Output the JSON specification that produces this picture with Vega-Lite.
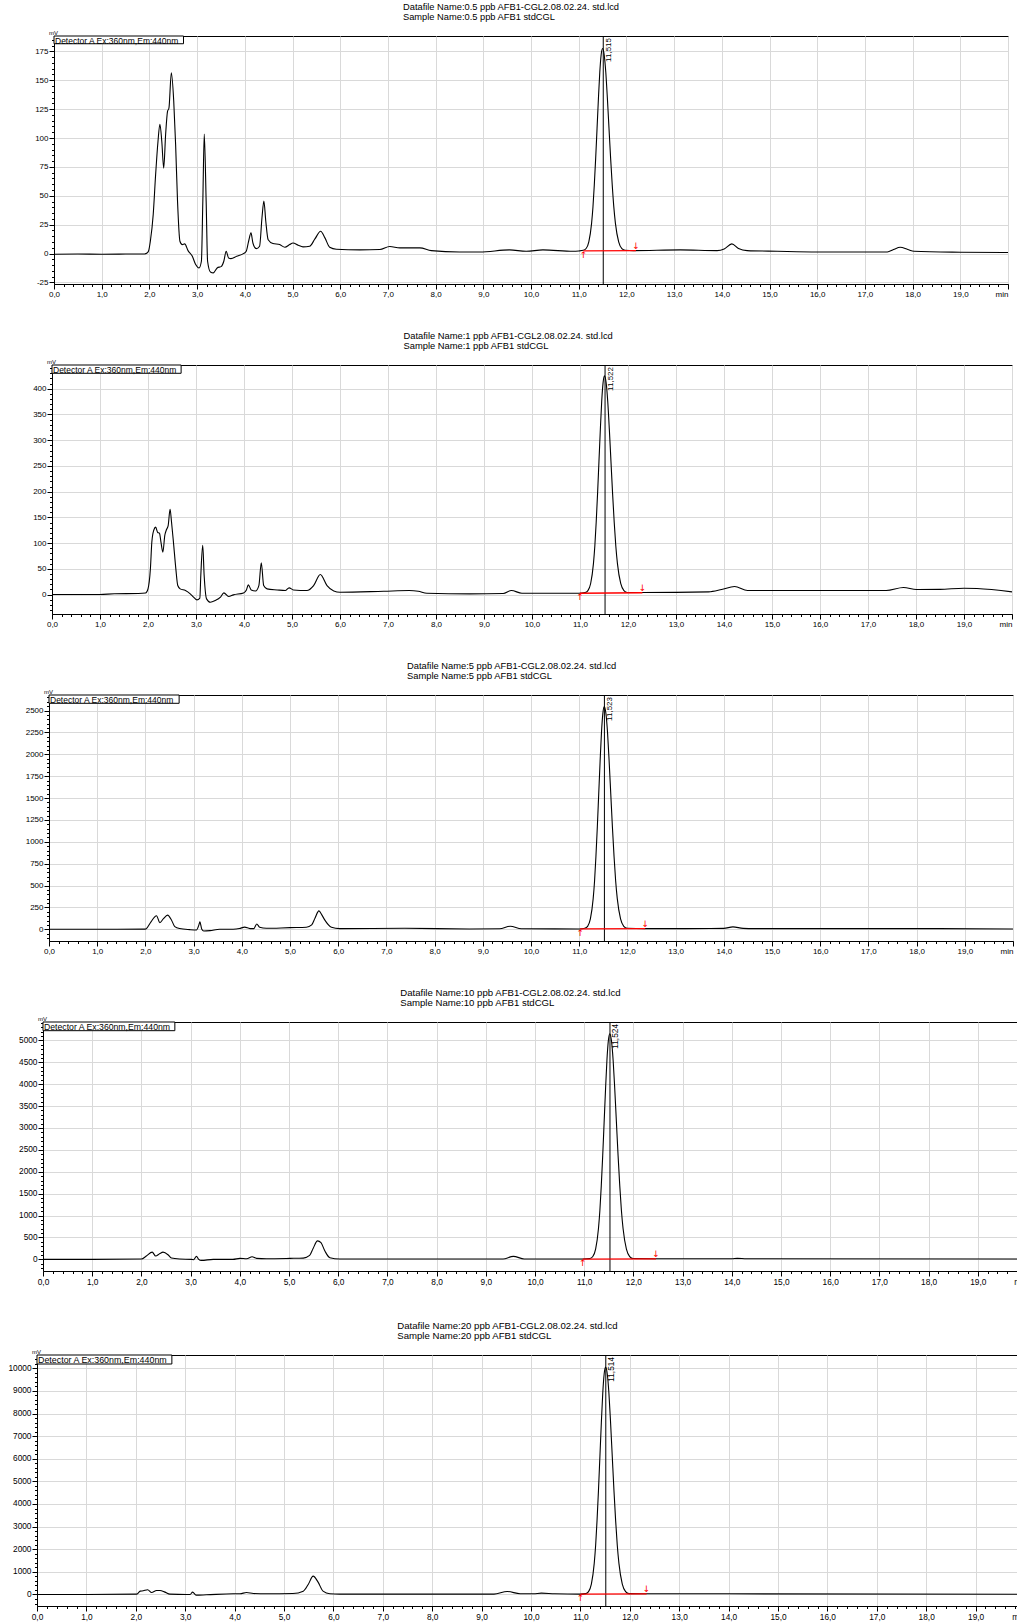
{
"$schema": "https://vega.github.io/schema/vega-lite/v6.json",
"padding": {"top": 2, "left": 0, "right": 0, "bottom": 0},
"config": {
  "font": "Liberation Sans",
  "view": {"stroke": "#000000", "strokeWidth": 1},
  "axis": {"domainColor": "#000000", "tickColor": "#000000", "labelColor": "#000000", "titleColor": "#000000", "gridColor": "#d9d9d9", "labelFont": "Liberation Sans", "titleFont": "Liberation Sans", "domainWidth": 1, "tickWidth": 1, "gridWidth": 1, "tickCount": 1000},
  "title": {"font": "Liberation Sans", "fontWeight": "normal", "color": "#000000", "anchor": "start", "frame": "group", "offset": 14, "lineHeight": 10, "baseline": "bottom"},
  "text": {"font": "Liberation Sans", "color": "#000000"}
},
"datasets": {
  "c1": [{"t":0,"v":-0.5},{"t":0.5,"v":-0.4},{"t":1,"v":-0.5},{"t":1.5,"v":-0.4},{"t":1.9,"v":-0.3},{"t":1.95,"v":0.5},{"t":1.98,"v":2},{"t":2.02,"v":10.7},{"t":2.08,"v":33.8},{"t":2.13,"v":68},{"t":2.18,"v":97},{"t":2.22,"v":112},{"t":2.26,"v":97},{"t":2.3,"v":74},{"t":2.34,"v":103},{"t":2.38,"v":123},{"t":2.41,"v":126},{"t":2.46,"v":156.5},{"t":2.51,"v":132},{"t":2.55,"v":94},{"t":2.59,"v":45},{"t":2.64,"v":10.7},{"t":2.69,"v":7.8},{"t":2.74,"v":8.4},{"t":2.81,"v":2.6},{"t":2.9,"v":-2.3},{"t":2.97,"v":-9.5},{"t":3.04,"v":-12.4},{"t":3.09,"v":-6.6},{"t":3.12,"v":45},{"t":3.15,"v":103.5},{"t":3.19,"v":45},{"t":3.22,"v":-6.6},{"t":3.28,"v":-15.9},{"t":3.34,"v":-16.7},{"t":3.42,"v":-12.4},{"t":3.51,"v":-11},{"t":3.56,"v":-6.6},{"t":3.61,"v":2},{"t":3.66,"v":-3.8},{"t":3.71,"v":-4.3},{"t":3.83,"v":-2.3},{"t":3.97,"v":0},{"t":4.03,"v":2},{"t":4.08,"v":10.7},{"t":4.13,"v":17.9},{"t":4.17,"v":9.2},{"t":4.24,"v":4.3},{"t":4.31,"v":6.4},{"t":4.36,"v":31},{"t":4.4,"v":45.5},{"t":4.44,"v":28},{"t":4.49,"v":12},{"t":4.59,"v":8.7},{"t":4.73,"v":7.8},{"t":4.84,"v":5.5},{"t":4.94,"v":7.8},{"t":5.01,"v":9.2},{"t":5.12,"v":7.2},{"t":5.22,"v":5.8},{"t":5.36,"v":6.4},{"t":5.47,"v":12.7},{"t":5.59,"v":19.3},{"t":5.68,"v":13.6},{"t":5.78,"v":5.5},{"t":5.92,"v":3.8},{"t":6.41,"v":3.2},{"t":6.83,"v":3.5},{"t":7.04,"v":6.1},{"t":7.25,"v":5},{"t":7.67,"v":5},{"t":7.91,"v":2.6},{"t":8.5,"v":1.4},{"t":8.93,"v":1.4},{"t":9.55,"v":3.2},{"t":9.9,"v":2},{"t":10.25,"v":3.2},{"t":10.88,"v":2},{"t":11,"v":2.3},{"t":11.097,"v":2.9},{"t":11.155,"v":4.4},{"t":11.212,"v":10.2},{"t":11.27,"v":26.2},{"t":11.299,"v":40.4},{"t":11.327,"v":59.3},{"t":11.356,"v":82.6},{"t":11.385,"v":108.6},{"t":11.414,"v":134.6},{"t":11.442,"v":156.9},{"t":11.471,"v":172.1},{"t":11.5,"v":177.5},{"t":11.534,"v":172.1},{"t":11.568,"v":156.9},{"t":11.601,"v":134.6},{"t":11.635,"v":108.6},{"t":11.669,"v":82.6},{"t":11.703,"v":59.3},{"t":11.736,"v":40.4},{"t":11.77,"v":26.2},{"t":11.838,"v":10.2},{"t":11.905,"v":4.4},{"t":11.973,"v":2.9},{"t":12.15,"v":2.6},{"t":13.13,"v":3.2},{"t":13.9,"v":2.6},{"t":14.05,"v":4},{"t":14.21,"v":8.4},{"t":14.35,"v":4.5},{"t":14.53,"v":2.6},{"t":15.16,"v":2},{"t":16,"v":1.4},{"t":17.47,"v":1.4},{"t":17.6,"v":3.5},{"t":17.74,"v":5.5},{"t":17.9,"v":3.5},{"t":18.03,"v":2},{"t":19.01,"v":1.2},{"t":20,"v":0.9}],
  "c2": [{"t":0,"v":0},{"t":1,"v":0},{"t":1.3,"v":1.5},{"t":1.8,"v":2},{"t":1.95,"v":3},{"t":2,"v":11},{"t":2.05,"v":50},{"t":2.08,"v":102},{"t":2.12,"v":125},{"t":2.16,"v":131},{"t":2.2,"v":121},{"t":2.24,"v":119},{"t":2.27,"v":102},{"t":2.31,"v":82.5},{"t":2.35,"v":115},{"t":2.38,"v":125},{"t":2.42,"v":134},{"t":2.46,"v":165.6},{"t":2.49,"v":141},{"t":2.53,"v":102},{"t":2.58,"v":50},{"t":2.62,"v":17.5},{"t":2.67,"v":11},{"t":2.78,"v":7.8},{"t":2.88,"v":1.3},{"t":2.95,"v":-5},{"t":3.02,"v":-10.4},{"t":3.08,"v":-7},{"t":3.1,"v":37},{"t":3.14,"v":95.5},{"t":3.17,"v":37},{"t":3.22,"v":-8.4},{"t":3.3,"v":-15},{"t":3.4,"v":-11.7},{"t":3.51,"v":-5},{"t":3.58,"v":3.2},{"t":3.68,"v":-3.9},{"t":3.78,"v":-0.6},{"t":3.99,"v":3.2},{"t":4.05,"v":9},{"t":4.09,"v":18.8},{"t":4.15,"v":9},{"t":4.24,"v":7},{"t":4.31,"v":17.5},{"t":4.36,"v":61.7},{"t":4.41,"v":17.5},{"t":4.48,"v":11},{"t":4.69,"v":9},{"t":4.86,"v":7.8},{"t":4.94,"v":13},{"t":5.03,"v":9},{"t":5.31,"v":7.8},{"t":5.45,"v":17.5},{"t":5.59,"v":39},{"t":5.73,"v":17.5},{"t":5.87,"v":7},{"t":6,"v":4.5},{"t":6.91,"v":6.5},{"t":7.44,"v":7.8},{"t":7.63,"v":6.5},{"t":7.81,"v":2.6},{"t":8.71,"v":1.3},{"t":9.4,"v":2},{"t":9.57,"v":7.8},{"t":9.79,"v":2.6},{"t":10.5,"v":2.6},{"t":10.97,"v":2.6},{"t":11.107,"v":3.9},{"t":11.165,"v":7.7},{"t":11.222,"v":21.5},{"t":11.28,"v":60.1},{"t":11.309,"v":94.3},{"t":11.337,"v":140},{"t":11.366,"v":196.2},{"t":11.395,"v":258.9},{"t":11.424,"v":321.5},{"t":11.452,"v":375.4},{"t":11.481,"v":412},{"t":11.51,"v":425},{"t":11.544,"v":412},{"t":11.578,"v":375.4},{"t":11.611,"v":321.5},{"t":11.645,"v":258.9},{"t":11.679,"v":196.2},{"t":11.713,"v":140},{"t":11.746,"v":94.3},{"t":11.78,"v":60.1},{"t":11.848,"v":21.5},{"t":11.915,"v":7.7},{"t":11.983,"v":3.9},{"t":12.32,"v":3.9},{"t":13.68,"v":5.2},{"t":13.95,"v":9.7},{"t":14.22,"v":15.6},{"t":14.49,"v":7.8},{"t":15.03,"v":7.8},{"t":17.38,"v":7.8},{"t":17.74,"v":13.6},{"t":18.01,"v":9.7},{"t":18.5,"v":10},{"t":19,"v":12.3},{"t":19.27,"v":11.7},{"t":20,"v":5.2}],
  "c3": [{"t":0,"v":0},{"t":1,"v":0},{"t":2,"v":2},{"t":2.02,"v":8},{"t":2.12,"v":88},{"t":2.23,"v":155},{"t":2.3,"v":76},{"t":2.37,"v":118},{"t":2.46,"v":162},{"t":2.54,"v":107},{"t":2.61,"v":30},{"t":2.71,"v":8},{"t":2.92,"v":-4},{"t":3.06,"v":-8},{"t":3.11,"v":50},{"t":3.13,"v":85},{"t":3.17,"v":0},{"t":3.21,"v":-19},{"t":3.34,"v":-15},{"t":3.54,"v":0},{"t":3.82,"v":0},{"t":3.95,"v":8},{"t":4.06,"v":25},{"t":4.17,"v":8},{"t":4.25,"v":8},{"t":4.31,"v":60},{"t":4.37,"v":23},{"t":4.51,"v":11},{"t":5,"v":19},{"t":5.34,"v":23},{"t":5.45,"v":50},{"t":5.52,"v":130},{"t":5.6,"v":210},{"t":5.66,"v":165},{"t":5.72,"v":107},{"t":5.86,"v":23},{"t":6.03,"v":8},{"t":7.38,"v":11},{"t":8.72,"v":4},{"t":9.35,"v":6},{"t":9.57,"v":35},{"t":9.8,"v":6},{"t":11.01,"v":4},{"t":11.117,"v":12},{"t":11.175,"v":34},{"t":11.232,"v":118},{"t":11.29,"v":350},{"t":11.319,"v":555},{"t":11.347,"v":831},{"t":11.376,"v":1169},{"t":11.405,"v":1547},{"t":11.434,"v":1923},{"t":11.462,"v":2248},{"t":11.491,"v":2468},{"t":11.52,"v":2546},{"t":11.554,"v":2468},{"t":11.588,"v":2248},{"t":11.621,"v":1923},{"t":11.655,"v":1547},{"t":11.689,"v":1169},{"t":11.723,"v":831},{"t":11.756,"v":555},{"t":11.79,"v":350},{"t":11.858,"v":118},{"t":11.925,"v":34},{"t":11.993,"v":12},{"t":12.37,"v":8},{"t":13.2,"v":8},{"t":14,"v":10},{"t":14.19,"v":27},{"t":14.4,"v":10},{"t":14.63,"v":8},{"t":17.68,"v":8},{"t":20,"v":4}],
  "c4": [{"t":0,"v":0},{"t":1,"v":0},{"t":2,"v":8},{"t":2.1,"v":76},{"t":2.22,"v":165},{"t":2.29,"v":76},{"t":2.37,"v":130},{"t":2.44,"v":165},{"t":2.54,"v":107},{"t":2.61,"v":30},{"t":2.78,"v":8},{"t":3.02,"v":0},{"t":3.06,"v":-8},{"t":3.12,"v":70},{"t":3.16,"v":8},{"t":3.22,"v":-23},{"t":3.46,"v":0},{"t":3.86,"v":0},{"t":4,"v":23},{"t":4.14,"v":15},{"t":4.25,"v":60},{"t":4.34,"v":23},{"t":4.54,"v":15},{"t":5.02,"v":23},{"t":5.29,"v":30},{"t":5.42,"v":91},{"t":5.49,"v":250},{"t":5.58,"v":422},{"t":5.65,"v":380},{"t":5.73,"v":190},{"t":5.83,"v":38},{"t":6.03,"v":8},{"t":8.69,"v":8},{"t":9.35,"v":10},{"t":9.56,"v":70},{"t":9.78,"v":10},{"t":10.97,"v":8},{"t":11.117,"v":19},{"t":11.175,"v":65},{"t":11.232,"v":234},{"t":11.29,"v":704},{"t":11.319,"v":1121},{"t":11.347,"v":1679},{"t":11.376,"v":2363},{"t":11.405,"v":3128},{"t":11.434,"v":3891},{"t":11.462,"v":4548},{"t":11.491,"v":4994},{"t":11.52,"v":5153},{"t":11.554,"v":4994},{"t":11.588,"v":4548},{"t":11.621,"v":3891},{"t":11.655,"v":3128},{"t":11.689,"v":2363},{"t":11.723,"v":1679},{"t":11.756,"v":1121},{"t":11.79,"v":704},{"t":11.858,"v":234},{"t":11.925,"v":65},{"t":11.993,"v":19},{"t":12.45,"v":16},{"t":14,"v":15},{"t":14.11,"v":23},{"t":14.3,"v":15},{"t":20,"v":8}],
  "c5": [{"t":0,"v":0},{"t":1,"v":0},{"t":2.02,"v":15},{"t":2.09,"v":147},{"t":2.15,"v":162},{"t":2.24,"v":206},{"t":2.32,"v":88},{"t":2.42,"v":176},{"t":2.49,"v":176},{"t":2.59,"v":103},{"t":2.69,"v":15},{"t":3.03,"v":0},{"t":3.1,"v":0},{"t":3.15,"v":103},{"t":3.22,"v":-30},{"t":3.43,"v":-15},{"t":3.97,"v":30},{"t":4.11,"v":30},{"t":4.24,"v":88},{"t":4.38,"v":44},{"t":4.65,"v":30},{"t":5.18,"v":44},{"t":5.39,"v":147},{"t":5.49,"v":441},{"t":5.59,"v":809},{"t":5.69,"v":544},{"t":5.79,"v":147},{"t":5.93,"v":30},{"t":6.13,"v":15},{"t":9.25,"v":15},{"t":9.52,"v":130},{"t":9.78,"v":30},{"t":10.05,"v":30},{"t":10.21,"v":60},{"t":10.48,"v":30},{"t":11,"v":15},{"t":11.107,"v":37},{"t":11.165,"v":126},{"t":11.222,"v":456},{"t":11.28,"v":1373},{"t":11.309,"v":2187},{"t":11.337,"v":3275},{"t":11.366,"v":4611},{"t":11.395,"v":6104},{"t":11.424,"v":7593},{"t":11.452,"v":8875},{"t":11.481,"v":9746},{"t":11.51,"v":10055},{"t":11.544,"v":9746},{"t":11.578,"v":8875},{"t":11.611,"v":7593},{"t":11.645,"v":6104},{"t":11.679,"v":4611},{"t":11.713,"v":3275},{"t":11.746,"v":2187},{"t":11.78,"v":1373},{"t":11.848,"v":456},{"t":11.915,"v":126},{"t":11.983,"v":37},{"t":12.34,"v":30},{"t":13.97,"v":30},{"t":20,"v":10}]
},
"vconcat": [
{"hconcat": [
  {"width": 54, "height": 295, "view": {"stroke": null}, "title": {"text": ["Datafile Name:0.5  ppb AFB1-CGL2.08.02.24. std.lcd", "Sample Name:0.5 ppb AFB1  stdCGL"], "dx": 403, "fontSize": 9.3}, "data": {"values": [{"a": 0}]}, "mark": {"type": "point", "opacity": 0}},
  {"width": 954, "height": 248,
   "encoding": {"x": {"field": "t", "type": "quantitative", "scale": {"domain": [0, 20], "nice": false, "zero": false},
     "axis": {"values": [0,0.2,0.4,0.6,0.8,1,1.2,1.4,1.6,1.8,2,2.2,2.4,2.6,2.8,3,3.2,3.4,3.6,3.8,4,4.2,4.4,4.6,4.8,5,5.2,5.4,5.6,5.8,6,6.2,6.4,6.6,6.8,7,7.2,7.4,7.6,7.8,8,8.2,8.4,8.6,8.8,9,9.2,9.4,9.6,9.8,10,10.2,10.4,10.6,10.8,11,11.2,11.4,11.6,11.8,12,12.2,12.4,12.6,12.8,13,13.2,13.4,13.6,13.8,14,14.2,14.4,14.6,14.8,15,15.2,15.4,15.6,15.8,16,16.2,16.4,16.6,16.8,17,17.2,17.4,17.6,17.8,18,18.2,18.4,18.6,18.8,19,19.2,19.4,19.6,19.8,20],
       "tickCount": 1000,
       "labelExpr": "abs(datum.value-round(datum.value))<0.01 ? (datum.value>19.99 ? 'min' : replace(format(datum.value,'.1f'),'.',',')) : ''",
       "tickSize": {"condition": {"test": "abs(datum.value-round(datum.value))<0.01", "value": 5}, "value": 2.5},
       "gridOpacity": {"condition": {"test": "abs(datum.value-round(datum.value))<0.01", "value": 1}, "value": 0},
       "labelAlign": {"condition": {"test": "datum.value>19.99", "value": "right"}, "value": "center"},
       "grid": true, "labelOverlap": false, "labelFlush": false, "labelPadding": 1.5, "labelFontSize": 8, "title": null}}},
   "layer": [
     {"data": {"name": "c1"}, "mark": {"type": "line", "color": "#000000", "strokeWidth": 1.1, "interpolate": "monotone"},
      "encoding": {"y": {"field": "v", "type": "quantitative", "scale": {"domain": [-26.3, 188.3], "nice": false, "zero": false},
        "axis": {"values": [-25,-20,-15,-10,-5,0,5,10,15,20,25,30,35,40,45,50,55,60,65,70,75,80,85,90,95,100,105,110,115,120,125,130,135,140,145,150,155,160,165,170,175,180,185],
          "tickCount": 1000,
          "labelExpr": "datum.value % 25 == 0 ? '' + datum.value : ''",
          "tickSize": {"condition": {"test": "datum.value % 25 == 0", "value": 5}, "value": 2.5},
          "gridOpacity": {"condition": {"test": "datum.value % 25 == 0", "value": 1}, "value": 0},
          "grid": true, "labelOverlap": false, "labelPadding": 1, "labelFontSize": 8,
          "title": "mV", "titleAngle": 0, "titleX": -1, "titleY": -1.7, "titleAlign": "center", "titleBaseline": "alphabetic", "titleFontSize": 6, "titleFontWeight": "normal"}}}},
     {"data": {"values": [{"t": 11.515}]}, "mark": {"type": "rule", "color": "#000000", "strokeWidth": 1}},
     {"data": {"values": [{"t": 11.515, "lab": "11,515"}]}, "mark": {"type": "text", "angle": 270, "align": "right", "baseline": "top", "dx": -2, "dy": 1.5, "fontSize": 8}, "encoding": {"y": {"datum": 188.3, "type": "quantitative"}, "text": {"field": "lab"}}},
     {"data": {"values": [{"t": 11.1, "v": 2.4}, {"t": 12.2, "v": 2.6}]}, "mark": {"type": "line", "color": "#ff0000", "strokeWidth": 1.3}, "encoding": {"y": {"field": "v", "type": "quantitative"}}},
     {"data": {"values": [{"t": 11.1, "v": 2.4, "s": "↑"}]}, "mark": {"type": "text", "color": "#ff0000", "font": "DejaVu Sans", "fontSize": 9, "baseline": "top", "align": "center"}, "encoding": {"y": {"field": "v", "type": "quantitative"}, "text": {"field": "s"}}},
     {"data": {"values": [{"t": 12.2, "v": 2.6, "s": "↓"}]}, "mark": {"type": "text", "color": "#ff0000", "font": "DejaVu Sans", "fontSize": 9, "baseline": "bottom", "align": "center"}, "encoding": {"y": {"field": "v", "type": "quantitative"}, "text": {"field": "s"}}},
     {"data": {"values": [{"t": 0, "t2": 2.715, "v": 188.3, "v2": 181.6}]}, "mark": {"type": "rect", "fill": "#ffffff", "stroke": "#000000", "strokeWidth": 1}, "encoding": {"x2": {"field": "t2"}, "y": {"field": "v", "type": "quantitative"}, "y2": {"field": "v2"}}},
     {"data": {"values": [{"t": 0, "v": 188.3, "s": "Detector A Ex:360nm,Em:440nm"}]}, "mark": {"type": "text", "align": "left", "baseline": "top", "dx": 1, "dy": 0.8, "fontSize": 8.5}, "encoding": {"y": {"field": "v", "type": "quantitative"}, "text": {"field": "s"}}}
   ]}
 ], "spacing": 0, "bounds": "flush"},
{"hconcat": [
  {"width": 52, "height": 296, "view": {"stroke": null}, "title": {"text": ["Datafile Name:1  ppb AFB1-CGL2.08.02.24. std.lcd", "Sample Name:1 ppb AFB1 stdCGL"], "dx": 403.5, "fontSize": 9.35}, "data": {"values": [{"a": 0}]}, "mark": {"type": "point", "opacity": 0}},
  {"width": 960, "height": 249,
   "encoding": {"x": {"field": "t", "type": "quantitative", "scale": {"domain": [0, 20], "nice": false, "zero": false},
     "axis": {"values": [0,0.2,0.4,0.6,0.8,1,1.2,1.4,1.6,1.8,2,2.2,2.4,2.6,2.8,3,3.2,3.4,3.6,3.8,4,4.2,4.4,4.6,4.8,5,5.2,5.4,5.6,5.8,6,6.2,6.4,6.6,6.8,7,7.2,7.4,7.6,7.8,8,8.2,8.4,8.6,8.8,9,9.2,9.4,9.6,9.8,10,10.2,10.4,10.6,10.8,11,11.2,11.4,11.6,11.8,12,12.2,12.4,12.6,12.8,13,13.2,13.4,13.6,13.8,14,14.2,14.4,14.6,14.8,15,15.2,15.4,15.6,15.8,16,16.2,16.4,16.6,16.8,17,17.2,17.4,17.6,17.8,18,18.2,18.4,18.6,18.8,19,19.2,19.4,19.6,19.8,20],
       "tickCount": 1000,
       "labelExpr": "abs(datum.value-round(datum.value))<0.01 ? (datum.value>19.99 ? 'min' : replace(format(datum.value,'.1f'),'.',',')) : ''",
       "tickSize": {"condition": {"test": "abs(datum.value-round(datum.value))<0.01", "value": 5}, "value": 2.5},
       "gridOpacity": {"condition": {"test": "abs(datum.value-round(datum.value))<0.01", "value": 1}, "value": 0},
       "labelAlign": {"condition": {"test": "datum.value>19.99", "value": "right"}, "value": "center"},
       "grid": true, "labelOverlap": false, "labelFlush": false, "labelPadding": 1.5, "labelFontSize": 8, "title": null}}},
   "layer": [
     {"data": {"name": "c2"}, "mark": {"type": "line", "color": "#000000", "strokeWidth": 1.1, "interpolate": "monotone"},
      "encoding": {"y": {"field": "v", "type": "quantitative", "scale": {"domain": [-37.8, 446.2], "nice": false, "zero": false},
        "axis": {"values": [-30,-20,-10,0,10,20,30,40,50,60,70,80,90,100,110,120,130,140,150,160,170,180,190,200,210,220,230,240,250,260,270,280,290,300,310,320,330,340,350,360,370,380,390,400,410,420,430,440],
          "tickCount": 1000,
          "labelExpr": "datum.value % 50 == 0 ? '' + datum.value : ''",
          "tickSize": {"condition": {"test": "datum.value % 50 == 0", "value": 5}, "value": 2.5},
          "gridOpacity": {"condition": {"test": "datum.value % 50 == 0", "value": 1}, "value": 0},
          "grid": true, "labelOverlap": false, "labelPadding": 1, "labelFontSize": 8,
          "title": "mV", "titleAngle": 0, "titleX": -1, "titleY": -1.7, "titleAlign": "center", "titleBaseline": "alphabetic", "titleFontSize": 6, "titleFontWeight": "normal"}}}},
     {"data": {"values": [{"t": 11.522}]}, "mark": {"type": "rule", "color": "#000000", "strokeWidth": 1}},
     {"data": {"values": [{"t": 11.522, "lab": "11,522"}]}, "mark": {"type": "text", "angle": 270, "align": "right", "baseline": "top", "dx": -2, "dy": 1.5, "fontSize": 8}, "encoding": {"y": {"datum": 446.2, "type": "quantitative"}, "text": {"field": "lab"}}},
     {"data": {"values": [{"t": 11.0, "v": 2.5}, {"t": 12.3, "v": 3.5}]}, "mark": {"type": "line", "color": "#ff0000", "strokeWidth": 1.3}, "encoding": {"y": {"field": "v", "type": "quantitative"}}},
     {"data": {"values": [{"t": 11.0, "v": 2.5, "s": "↑"}]}, "mark": {"type": "text", "color": "#ff0000", "font": "DejaVu Sans", "fontSize": 9, "baseline": "top", "align": "center"}, "encoding": {"y": {"field": "v", "type": "quantitative"}, "text": {"field": "s"}}},
     {"data": {"values": [{"t": 12.3, "v": 3.5, "s": "↓"}]}, "mark": {"type": "text", "color": "#ff0000", "font": "DejaVu Sans", "fontSize": 9, "baseline": "bottom", "align": "center"}, "encoding": {"y": {"field": "v", "type": "quantitative"}, "text": {"field": "s"}}},
     {"data": {"values": [{"t": 0, "t2": 2.69, "v": 446.2, "v2": 430.1}]}, "mark": {"type": "rect", "fill": "#ffffff", "stroke": "#000000", "strokeWidth": 1}, "encoding": {"x2": {"field": "t2"}, "y": {"field": "v", "type": "quantitative"}, "y2": {"field": "v2"}}},
     {"data": {"values": [{"t": 0, "v": 446.2, "s": "Detector A Ex:360nm,Em:440nm"}]}, "mark": {"type": "text", "align": "left", "baseline": "top", "dx": 1, "dy": 0.8, "fontSize": 8.5}, "encoding": {"y": {"field": "v", "type": "quantitative"}, "text": {"field": "s"}}}
   ]}
 ], "spacing": 0, "bounds": "flush"},
{"hconcat": [
  {"width": 49, "height": 293, "view": {"stroke": null}, "title": {"text": ["Datafile Name:5  ppb AFB1-CGL2.08.02.24. std.lcd", "Sample Name:5 ppb AFB1  stdCGL"], "dx": 407, "fontSize": 9.35}, "data": {"values": [{"a": 0}]}, "mark": {"type": "point", "opacity": 0}},
  {"width": 964, "height": 246,
   "encoding": {"x": {"field": "t", "type": "quantitative", "scale": {"domain": [0, 20], "nice": false, "zero": false},
     "axis": {"values": [0,0.2,0.4,0.6,0.8,1,1.2,1.4,1.6,1.8,2,2.2,2.4,2.6,2.8,3,3.2,3.4,3.6,3.8,4,4.2,4.4,4.6,4.8,5,5.2,5.4,5.6,5.8,6,6.2,6.4,6.6,6.8,7,7.2,7.4,7.6,7.8,8,8.2,8.4,8.6,8.8,9,9.2,9.4,9.6,9.8,10,10.2,10.4,10.6,10.8,11,11.2,11.4,11.6,11.8,12,12.2,12.4,12.6,12.8,13,13.2,13.4,13.6,13.8,14,14.2,14.4,14.6,14.8,15,15.2,15.4,15.6,15.8,16,16.2,16.4,16.6,16.8,17,17.2,17.4,17.6,17.8,18,18.2,18.4,18.6,18.8,19,19.2,19.4,19.6,19.8,20],
       "tickCount": 1000,
       "labelExpr": "abs(datum.value-round(datum.value))<0.01 ? (datum.value>19.99 ? 'min' : replace(format(datum.value,'.1f'),'.',',')) : ''",
       "tickSize": {"condition": {"test": "abs(datum.value-round(datum.value))<0.01", "value": 5}, "value": 2.5},
       "gridOpacity": {"condition": {"test": "abs(datum.value-round(datum.value))<0.01", "value": 1}, "value": 0},
       "labelAlign": {"condition": {"test": "datum.value>19.99", "value": "right"}, "value": "center"},
       "grid": true, "labelOverlap": false, "labelFlush": false, "labelPadding": 1.5, "labelFontSize": 8, "title": null}}},
   "layer": [
     {"data": {"name": "c3"}, "mark": {"type": "line", "color": "#000000", "strokeWidth": 1.1, "interpolate": "monotone"},
      "encoding": {"y": {"field": "v", "type": "quantitative", "scale": {"domain": [-134, 2678], "nice": false, "zero": false},
        "axis": {"values": [-100,-50,0,50,100,150,200,250,300,350,400,450,500,550,600,650,700,750,800,850,900,950,1000,1050,1100,1150,1200,1250,1300,1350,1400,1450,1500,1550,1600,1650,1700,1750,1800,1850,1900,1950,2000,2050,2100,2150,2200,2250,2300,2350,2400,2450,2500,2550,2600,2650],
          "tickCount": 1000,
          "labelExpr": "datum.value % 250 == 0 ? '' + datum.value : ''",
          "tickSize": {"condition": {"test": "datum.value % 250 == 0", "value": 5}, "value": 2.5},
          "gridOpacity": {"condition": {"test": "datum.value % 250 == 0", "value": 1}, "value": 0},
          "grid": true, "labelOverlap": false, "labelPadding": 1, "labelFontSize": 8,
          "title": "mV", "titleAngle": 0, "titleX": -1, "titleY": -1.7, "titleAlign": "center", "titleBaseline": "alphabetic", "titleFontSize": 6, "titleFontWeight": "normal"}}}},
     {"data": {"values": [{"t": 11.523}]}, "mark": {"type": "rule", "color": "#000000", "strokeWidth": 1}},
     {"data": {"values": [{"t": 11.523, "lab": "11,523"}]}, "mark": {"type": "text", "angle": 270, "align": "right", "baseline": "top", "dx": -2, "dy": 1.5, "fontSize": 8}, "encoding": {"y": {"datum": 2678, "type": "quantitative"}, "text": {"field": "lab"}}},
     {"data": {"values": [{"t": 11.02, "v": 4}, {"t": 12.37, "v": 8}]}, "mark": {"type": "line", "color": "#ff0000", "strokeWidth": 1.3}, "encoding": {"y": {"field": "v", "type": "quantitative"}}},
     {"data": {"values": [{"t": 11.02, "v": 4, "s": "↑"}]}, "mark": {"type": "text", "color": "#ff0000", "font": "DejaVu Sans", "fontSize": 9, "baseline": "top", "align": "center"}, "encoding": {"y": {"field": "v", "type": "quantitative"}, "text": {"field": "s"}}},
     {"data": {"values": [{"t": 12.37, "v": 8, "s": "↓"}]}, "mark": {"type": "text", "color": "#ff0000", "font": "DejaVu Sans", "fontSize": 9, "baseline": "bottom", "align": "center"}, "encoding": {"y": {"field": "v", "type": "quantitative"}, "text": {"field": "s"}}},
     {"data": {"values": [{"t": 0, "t2": 2.7, "v": 2678, "v2": 2583}]}, "mark": {"type": "rect", "fill": "#ffffff", "stroke": "#000000", "strokeWidth": 1}, "encoding": {"x2": {"field": "t2"}, "y": {"field": "v", "type": "quantitative"}, "y2": {"field": "v2"}}},
     {"data": {"values": [{"t": 0, "v": 2678, "s": "Detector A Ex:360nm,Em:440nm"}]}, "mark": {"type": "text", "align": "left", "baseline": "top", "dx": 1, "dy": 0.8, "fontSize": 8.5}, "encoding": {"y": {"field": "v", "type": "quantitative"}, "text": {"field": "s"}}}
   ]}
 ], "spacing": 0, "bounds": "flush"},
{"hconcat": [
  {"width": 43, "height": 299, "view": {"stroke": null}, "title": {"text": ["Datafile Name:10  ppb AFB1-CGL2.08.02.24. std.lcd", "Sample Name:10 ppb AFB1 stdCGL"], "dx": 400.3, "fontSize": 9.6}, "data": {"values": [{"a": 0}]}, "mark": {"type": "point", "opacity": 0}},
  {"width": 984, "height": 249,
   "encoding": {"x": {"field": "t", "type": "quantitative", "scale": {"domain": [0, 20], "nice": false, "zero": false},
     "axis": {"values": [0,0.2,0.4,0.6,0.8,1,1.2,1.4,1.6,1.8,2,2.2,2.4,2.6,2.8,3,3.2,3.4,3.6,3.8,4,4.2,4.4,4.6,4.8,5,5.2,5.4,5.6,5.8,6,6.2,6.4,6.6,6.8,7,7.2,7.4,7.6,7.8,8,8.2,8.4,8.6,8.8,9,9.2,9.4,9.6,9.8,10,10.2,10.4,10.6,10.8,11,11.2,11.4,11.6,11.8,12,12.2,12.4,12.6,12.8,13,13.2,13.4,13.6,13.8,14,14.2,14.4,14.6,14.8,15,15.2,15.4,15.6,15.8,16,16.2,16.4,16.6,16.8,17,17.2,17.4,17.6,17.8,18,18.2,18.4,18.6,18.8,19,19.2,19.4,19.6,19.8,20],
       "tickCount": 1000,
       "labelExpr": "abs(datum.value-round(datum.value))<0.01 ? (datum.value>19.99 ? 'min' : replace(format(datum.value,'.1f'),'.',',')) : ''",
       "tickSize": {"condition": {"test": "abs(datum.value-round(datum.value))<0.01", "value": 5}, "value": 2.5},
       "gridOpacity": {"condition": {"test": "abs(datum.value-round(datum.value))<0.01", "value": 1}, "value": 0},
       "labelAlign": {"condition": {"test": "datum.value>19.99", "value": "right"}, "value": "center"},
       "grid": true, "labelOverlap": false, "labelFlush": false, "labelPadding": 1.5, "labelFontSize": 8.3, "title": null}}},
   "layer": [
     {"data": {"name": "c4"}, "mark": {"type": "line", "color": "#000000", "strokeWidth": 1.1, "interpolate": "monotone"},
      "encoding": {"y": {"field": "v", "type": "quantitative", "scale": {"domain": [-265, 5420], "nice": false, "zero": false},
        "axis": {"values": [-200,-100,0,100,200,300,400,500,600,700,800,900,1000,1100,1200,1300,1400,1500,1600,1700,1800,1900,2000,2100,2200,2300,2400,2500,2600,2700,2800,2900,3000,3100,3200,3300,3400,3500,3600,3700,3800,3900,4000,4100,4200,4300,4400,4500,4600,4700,4800,4900,5000,5100,5200,5300,5400],
          "tickCount": 1000,
          "labelExpr": "datum.value % 500 == 0 ? '' + datum.value : ''",
          "tickSize": {"condition": {"test": "datum.value % 500 == 0", "value": 5}, "value": 2.5},
          "gridOpacity": {"condition": {"test": "datum.value % 500 == 0", "value": 1}, "value": 0},
          "grid": true, "labelOverlap": false, "labelPadding": 1, "labelFontSize": 8.3,
          "title": "mV", "titleAngle": 0, "titleX": -1, "titleY": -1.7, "titleAlign": "center", "titleBaseline": "alphabetic", "titleFontSize": 6, "titleFontWeight": "normal"}}}},
     {"data": {"values": [{"t": 11.524}]}, "mark": {"type": "rule", "color": "#000000", "strokeWidth": 1}},
     {"data": {"values": [{"t": 11.524, "lab": "11,524"}]}, "mark": {"type": "text", "angle": 270, "align": "right", "baseline": "top", "dx": -2, "dy": 1.5, "fontSize": 8.3}, "encoding": {"y": {"datum": 5420, "type": "quantitative"}, "text": {"field": "lab"}}},
     {"data": {"values": [{"t": 10.97, "v": 8}, {"t": 12.46, "v": 12}]}, "mark": {"type": "line", "color": "#ff0000", "strokeWidth": 1.3}, "encoding": {"y": {"field": "v", "type": "quantitative"}}},
     {"data": {"values": [{"t": 10.97, "v": 8, "s": "↑"}]}, "mark": {"type": "text", "color": "#ff0000", "font": "DejaVu Sans", "fontSize": 9, "baseline": "top", "align": "center"}, "encoding": {"y": {"field": "v", "type": "quantitative"}, "text": {"field": "s"}}},
     {"data": {"values": [{"t": 12.46, "v": 12, "s": "↓"}]}, "mark": {"type": "text", "color": "#ff0000", "font": "DejaVu Sans", "fontSize": 9, "baseline": "bottom", "align": "center"}, "encoding": {"y": {"field": "v", "type": "quantitative"}, "text": {"field": "s"}}},
     {"data": {"values": [{"t": 0, "t2": 2.68, "v": 5420, "v2": 5222}]}, "mark": {"type": "rect", "fill": "#ffffff", "stroke": "#000000", "strokeWidth": 1}, "encoding": {"x2": {"field": "t2"}, "y": {"field": "v", "type": "quantitative"}, "y2": {"field": "v2"}}},
     {"data": {"values": [{"t": 0, "v": 5420, "s": "Detector A Ex:360nm,Em:440nm"}]}, "mark": {"type": "text", "align": "left", "baseline": "top", "dx": 1, "dy": 0.8, "fontSize": 8.7}, "encoding": {"y": {"field": "v", "type": "quantitative"}, "text": {"field": "s"}}}
   ]}
 ], "spacing": 0, "bounds": "flush"},
{"hconcat": [
  {"width": 37, "height": 270, "view": {"stroke": null}, "title": {"text": ["Datafile Name:20  ppb AFB1-CGL2.08.02.24. std.lcd", "Sample Name:20 ppb AFB1 stdCGL"], "dx": 397.3, "fontSize": 9.6}, "data": {"values": [{"a": 0}]}, "mark": {"type": "point", "opacity": 0}},
  {"width": 988, "height": 251,
   "encoding": {"x": {"field": "t", "type": "quantitative", "scale": {"domain": [0, 20], "nice": false, "zero": false},
     "axis": {"values": [0,0.2,0.4,0.6,0.8,1,1.2,1.4,1.6,1.8,2,2.2,2.4,2.6,2.8,3,3.2,3.4,3.6,3.8,4,4.2,4.4,4.6,4.8,5,5.2,5.4,5.6,5.8,6,6.2,6.4,6.6,6.8,7,7.2,7.4,7.6,7.8,8,8.2,8.4,8.6,8.8,9,9.2,9.4,9.6,9.8,10,10.2,10.4,10.6,10.8,11,11.2,11.4,11.6,11.8,12,12.2,12.4,12.6,12.8,13,13.2,13.4,13.6,13.8,14,14.2,14.4,14.6,14.8,15,15.2,15.4,15.6,15.8,16,16.2,16.4,16.6,16.8,17,17.2,17.4,17.6,17.8,18,18.2,18.4,18.6,18.8,19,19.2,19.4,19.6,19.8,20],
       "tickCount": 1000,
       "labelExpr": "abs(datum.value-round(datum.value))<0.01 ? (datum.value>19.99 ? 'min' : replace(format(datum.value,'.1f'),'.',',')) : ''",
       "tickSize": {"condition": {"test": "abs(datum.value-round(datum.value))<0.01", "value": 5}, "value": 2.5},
       "gridOpacity": {"condition": {"test": "abs(datum.value-round(datum.value))<0.01", "value": 1}, "value": 0},
       "labelAlign": {"condition": {"test": "datum.value>19.99", "value": "right"}, "value": "center"},
       "grid": true, "labelOverlap": false, "labelFlush": false, "labelPadding": 1.5, "labelFontSize": 8.3, "title": null}}},
   "layer": [
     {"data": {"name": "c5"}, "mark": {"type": "line", "color": "#000000", "strokeWidth": 1.1, "interpolate": "monotone"},
      "encoding": {"y": {"field": "v", "type": "quantitative", "scale": {"domain": [-510, 10588], "nice": false, "zero": false},
        "axis": {"values": [-400,-200,0,200,400,600,800,1000,1200,1400,1600,1800,2000,2200,2400,2600,2800,3000,3200,3400,3600,3800,4000,4200,4400,4600,4800,5000,5200,5400,5600,5800,6000,6200,6400,6600,6800,7000,7200,7400,7600,7800,8000,8200,8400,8600,8800,9000,9200,9400,9600,9800,10000,10200,10400],
          "tickCount": 1000,
          "labelExpr": "datum.value % 1000 == 0 ? '' + datum.value : ''",
          "tickSize": {"condition": {"test": "datum.value % 1000 == 0", "value": 5}, "value": 2.5},
          "gridOpacity": {"condition": {"test": "datum.value % 1000 == 0", "value": 1}, "value": 0},
          "grid": true, "labelOverlap": false, "labelPadding": 1, "labelFontSize": 8.3,
          "title": "mV", "titleAngle": 0, "titleX": -1, "titleY": -1.7, "titleAlign": "center", "titleBaseline": "alphabetic", "titleFontSize": 6, "titleFontWeight": "normal"}}}},
     {"data": {"values": [{"t": 11.514}]}, "mark": {"type": "rule", "color": "#000000", "strokeWidth": 1}},
     {"data": {"values": [{"t": 11.514, "lab": "11,514"}]}, "mark": {"type": "text", "angle": 270, "align": "right", "baseline": "top", "dx": -2, "dy": 1.5, "fontSize": 8.3}, "encoding": {"y": {"datum": 10588, "type": "quantitative"}, "text": {"field": "lab"}}},
     {"data": {"values": [{"t": 11.0, "v": 15}, {"t": 12.34, "v": 30}]}, "mark": {"type": "line", "color": "#ff0000", "strokeWidth": 1.3}, "encoding": {"y": {"field": "v", "type": "quantitative"}}},
     {"data": {"values": [{"t": 11.0, "v": 15, "s": "↑"}]}, "mark": {"type": "text", "color": "#ff0000", "font": "DejaVu Sans", "fontSize": 9, "baseline": "top", "align": "center"}, "encoding": {"y": {"field": "v", "type": "quantitative"}, "text": {"field": "s"}}},
     {"data": {"values": [{"t": 12.34, "v": 30, "s": "↓"}]}, "mark": {"type": "text", "color": "#ff0000", "font": "DejaVu Sans", "fontSize": 9, "baseline": "bottom", "align": "center"}, "encoding": {"y": {"field": "v", "type": "quantitative"}, "text": {"field": "s"}}},
     {"data": {"values": [{"t": 0, "t2": 2.73, "v": 10588, "v2": 10190}]}, "mark": {"type": "rect", "fill": "#ffffff", "stroke": "#000000", "strokeWidth": 1}, "encoding": {"x2": {"field": "t2"}, "y": {"field": "v", "type": "quantitative"}, "y2": {"field": "v2"}}},
     {"data": {"values": [{"t": 0, "v": 10588, "s": "Detector A Ex:360nm,Em:440nm"}]}, "mark": {"type": "text", "align": "left", "baseline": "top", "dx": 1, "dy": 0.8, "fontSize": 8.9}, "encoding": {"y": {"field": "v", "type": "quantitative"}, "text": {"field": "s"}}}
   ]}
 ], "spacing": 0, "bounds": "flush"}
],
"spacing": 0,
"align": "none",
"bounds": "full"
}
